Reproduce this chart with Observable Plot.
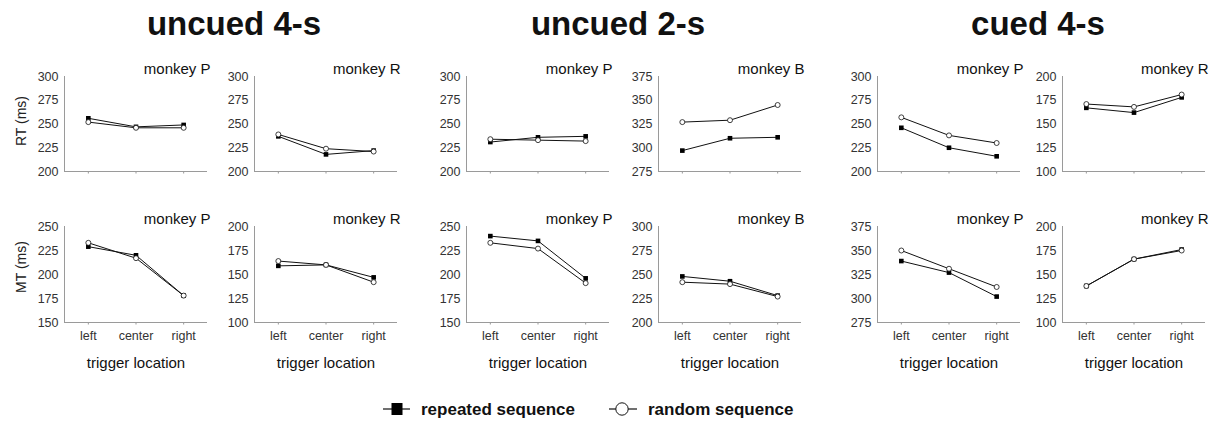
<!DOCTYPE html>
<html>
<head>
<meta charset="utf-8">
<script src="https://cdn.jsdelivr.net/npm/d3@7"></script>
<script src="https://cdn.jsdelivr.net/npm/@observablehq/plot@0.6"></script>
<style>
  html, body { margin: 0; padding: 0; background: #fff; }
  #chart { position: relative; width: 1212px; height: 423px; overflow: hidden; background: #fff;
           font-family: "Liberation Sans", Arial, Helvetica, sans-serif; color: #111; }
  .title { position: absolute; width: 320px; text-align: center; font-weight: bold; font-size: 33px;
           line-height: 33px; top: 7px; color: #111; }
  .ylab { position: absolute; font-size: 14px; line-height: 14px; white-space: nowrap;
          transform: translate(-50%, -50%) rotate(-90deg); color: #222; }
  .panel { position: absolute; }
  .panel svg { overflow: visible; max-width: none !important; }
</style>
</head>
<body>
<div id="chart"></div>
<script>
// ---- data ----
const locations = ["left", "center", "right"];
const groups = ["uncued 4-s", "uncued 2-s", "cued 4-s"];
const monkeys = ["monkey P", "monkey R", "monkey P", "monkey B", "monkey P", "monkey R"];
const measures = ["RT (ms)", "MT (ms)"];
const seriesNames = ["repeated sequence", "random sequence"];

// RT (top row), one triple (left, center, right) per panel
const rtRepeated = [[256, 247, 249], [237, 218, 222], [231, 236, 237], [297, 310, 311], [246, 225, 216], [167, 162, 178]];
const rtRandom   = [[252, 246, 246], [239, 224, 221], [234, 233, 232], [327, 329, 345], [257, 238, 230], [171, 168, 181]];
// MT (bottom row)
const mtRepeated = [[229, 220, 178], [159, 160, 147], [240, 235, 196], [248, 243, 228], [339, 327, 302], [138, 166, 176]];
const mtRandom   = [[233, 217, 178], [164, 160, 142], [233, 227, 191], [242, 240, 227], [350, 331, 312], [138, 166, 175]];

// y-axis tick labels per panel
const rtTicks = [
  [200, 225, 250, 275, 300], [200, 225, 250, 275, 300], [200, 225, 250, 275, 300],
  [275, 300, 325, 350, 375], [200, 225, 250, 275, 300], [100, 125, 150, 175, 200]
];
const mtTicks = [
  [150, 175, 200, 225, 250], [100, 125, 150, 175, 200], [150, 175, 200, 225, 250],
  [200, 225, 250, 275, 300], [275, 300, 325, 350, 375], [100, 125, 150, 175, 200]
];
const xLabel = "trigger location";

// ---- layout ----
const FONT = '"Liberation Sans", Arial, Helvetica, sans-serif';
const axisLeft = [64, 254, 466, 658, 877, 1062];
const frameW = 143;
const rows = [{top: 76, h: 95}, {top: 226, h: 96}];
const titleCenters = [234, 618, 1038];

const chart = document.getElementById("chart");

groups.forEach((g, i) => {
  const d = document.createElement("div");
  d.className = "title";
  d.textContent = g;
  d.style.left = (titleCenters[i] - 160) + "px";
  chart.appendChild(d);
});

const ylabPos = [121, 267];
measures.forEach((m, i) => {
  const d = document.createElement("div");
  d.className = "ylab";
  d.textContent = m;
  d.style.left = "21px";
  d.style.top = ylabPos[i] + "px";
  chart.appendChild(d);
});

function panel(p, row) {
  const bottom = row === 1;
  const rep = bottom ? mtRepeated[p] : rtRepeated[p];
  const rnd = bottom ? mtRandom[p] : rtRandom[p];
  const ticks = bottom ? mtTicks[p] : rtTicks[p];
  const yDomain = [ticks[0], ticks[ticks.length - 1]];
  const data = locations.map((loc, i) => ({i, loc, rep: rep[i], rnd: rnd[i]}));
  const mL = 50, mR = 6, mT = 26, mB = bottom ? 52 : 10;
  const {top, h} = rows[row];
  const svg = Plot.plot({
    width: mL + frameW + mR,
    height: mT + h + mB,
    marginLeft: mL, marginRight: mR, marginTop: mT, marginBottom: mB,
    x: {type: "linear", domain: [-0.5, 2.5]},
    y: {domain: yDomain},
    style: {fontFamily: FONT, fontSize: "12px", background: "transparent", color: "#222", overflow: "visible"},
    marks: [
      Plot.axisY({ticks, tickSize: 0, tickPadding: 6, label: null, fontSize: 12.5, fill: "#333"}),
      Plot.axisX({ticks: [0, 1, 2], tickSize: 2.5, tickPadding: 6, label: null, fontSize: 12.5,
                  stroke: "#999", fill: "#333",
                  tickFormat: (i) => bottom ? locations[i] : ""}),
      Plot.ruleX([-0.5], {stroke: "#9a9a9a", strokeWidth: 1}),
      Plot.ruleY([yDomain[0]], {stroke: "#9a9a9a", strokeWidth: 1}),
      Plot.line(data, {x: "i", y: "rep", stroke: "#111", strokeWidth: 1}),
      Plot.line(data, {x: "i", y: "rnd", stroke: "#111", strokeWidth: 1}),
      Plot.dot(data, {x: "i", y: "rep", symbol: "square", fill: "#000", r: 2.6}),
      Plot.dot(data, {x: "i", y: "rnd", symbol: "circle", fill: "#fff", stroke: "#111", strokeWidth: 0.8, r: 2.5}),
      Plot.text([monkeys[p]], {frameAnchor: "top-right", text: (d) => d, dx: 3, dy: -3,
                               lineAnchor: "bottom", fontSize: 15, fill: "#111"}),
      bottom ? Plot.text([xLabel], {frameAnchor: "bottom", text: (d) => d, dy: 41,
                                    lineAnchor: "middle", fontSize: 15, fill: "#111"}) : null
    ]
  });
  svg.style.maxWidth = "none";
  const wrap = document.createElement("div");
  wrap.className = "panel";
  wrap.style.left = (axisLeft[p] - mL) + "px";
  wrap.style.top = (top - mT) + "px";
  wrap.appendChild(svg);
  chart.appendChild(wrap);
}

for (let row = 0; row < 2; row++) {
  for (let p = 0; p < 6; p++) panel(p, row);
}

// ---- legend ----
const ns = "http://www.w3.org/2000/svg";
const leg = document.createElementNS(ns, "svg");
leg.setAttribute("width", 1212);
leg.setAttribute("height", 30);
leg.style.position = "absolute";
leg.style.left = "0px";
leg.style.top = "394px";
const cy = 15;
const legendItems = [
  {x0: 383, x1: 410, mx: 397, text: 421, kind: "square"},
  {x0: 609, x1: 637, mx: 622, text: 648, kind: "circle"}
];
legendItems.forEach((it, i) => {
  const ln = document.createElementNS(ns, "line");
  ln.setAttribute("x1", it.x0); ln.setAttribute("x2", it.x1);
  ln.setAttribute("y1", cy); ln.setAttribute("y2", cy);
  ln.setAttribute("stroke", "#111"); ln.setAttribute("stroke-width", 1.2);
  leg.appendChild(ln);
  if (it.kind === "square") {
    const r = document.createElementNS(ns, "rect");
    r.setAttribute("x", it.mx - 5.5); r.setAttribute("y", cy - 6);
    r.setAttribute("width", 11); r.setAttribute("height", 12);
    r.setAttribute("fill", "#000");
    leg.appendChild(r);
  } else {
    const c = document.createElementNS(ns, "circle");
    c.setAttribute("cx", it.mx); c.setAttribute("cy", cy); c.setAttribute("r", 6.2);
    c.setAttribute("fill", "#fff"); c.setAttribute("stroke", "#111"); c.setAttribute("stroke-width", 1);
    leg.appendChild(c);
  }
  const t = document.createElementNS(ns, "text");
  t.setAttribute("x", it.text); t.setAttribute("y", cy);
  t.setAttribute("dy", "0.35em");
  t.setAttribute("font-family", FONT);
  t.setAttribute("font-size", 17);
  t.setAttribute("font-weight", "bold");
  t.setAttribute("fill", "#111");
  t.textContent = seriesNames[i];
  leg.appendChild(t);
});
chart.appendChild(leg);
</script>
</body>
</html>
